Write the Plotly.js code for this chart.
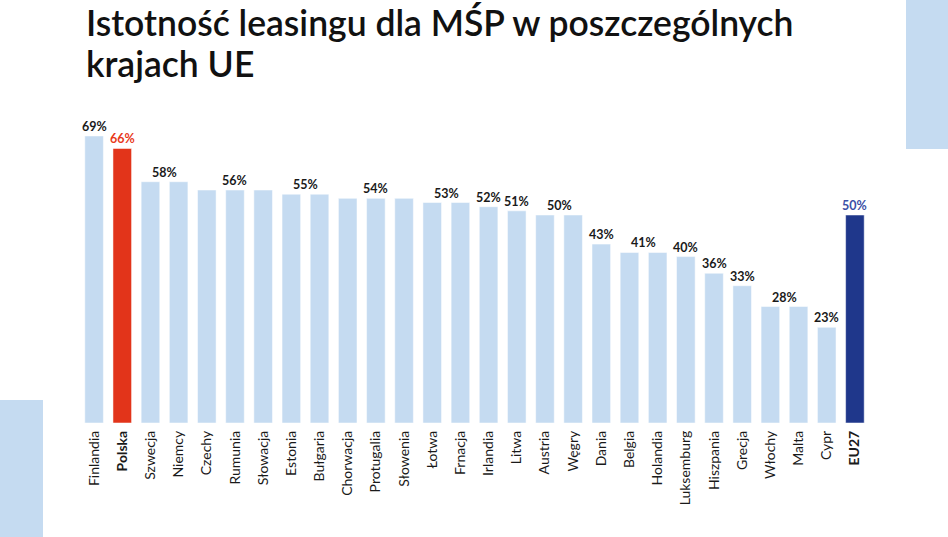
<!DOCTYPE html>
<html>
<head>
<meta charset="utf-8">
<script src="https://cdn.plot.ly/plotly-3.0.1.min.js"></script>
<style>
  html, body { margin: 0; padding: 0; background: #fff; }
  #chart { width: 948px; height: 537px; }
</style>
</head>
<body>
<div id="chart"></div>
<script>
// kraje i wartosci (%)
var countries = ['Finlandia', 'Polska', 'Szwecja', 'Niemcy', 'Czechy', 'Rumunia', 'Słowacja',
  'Estonia', 'Bułgaria', 'Chorwacja', 'Protugalia', 'Słowenia', 'Łotwa', 'Frnacja', 'Irlandia',
  'Litwa', 'Austria', 'Węgry', 'Dania', 'Belgia', 'Holandia', 'Luksemburg', 'Hiszpania',
  'Grecja', 'Włochy', 'Malta', 'Cypr', 'EU27'];
var values = [69, 66, 58, 58, 56, 56, 56, 55, 55, 54, 54, 54, 53, 53, 52, 51, 50, 50,
  43, 41, 41, 40, 36, 33, 28, 28, 23, 50];
var highlighted = ['Polska', 'EU27'];
var titleLines = ['Istotność leasingu dla MŚP w poszczególnych', 'krajach UE'];

var W = 948, H = 537;
var margin = {l: 80, r: 79, t: 100, b: 114};
var pw = W - margin.l - margin.r, ph = H - margin.t - margin.b;

var idx = countries.map(function(c, i) { return i; });

var barColors = countries.map(function(c) {
  if (c === 'Polska') return '#e2341a';
  if (c === 'EU27') return '#1f378b';
  return '#c5dbf1';
});

var tickText = countries.map(function(c) {
  return highlighted.indexOf(c) >= 0 ? '<b>' + c + '</b>' : c;
});

// px -> paper
function px2x(p) { return (p - margin.l) / pw; }
function py2y(p) { return (H - margin.b - p) / ph; }

// one label per run of equal values (EU27 kept separate)
var annotations = [];
var i = 0;
while (i < countries.length) {
  var j = i;
  while (j + 1 < countries.length && values[j + 1] === values[i] && countries[j + 1] !== 'EU27') j++;
  var col = '#1a1a1a';
  if (countries[i] === 'Polska') col = '#e8391a';
  if (countries[i] === 'EU27') col = '#3b4fa6';
  annotations.push({
    x: (i + j) / 2, y: values[i], xref: 'x', yref: 'y',
    text: values[i] + '%', showarrow: false,
    yanchor: 'bottom', yshift: 0,
    font: {family: 'Lato, sans-serif', size: 12.5, color: col, weight: 700}
  });
  i = j + 1;
}

// tytul jako dwie linie
titleLines.forEach(function(t, k) {
  annotations.push({
    xref: 'paper', yref: 'paper', x: px2x(84), y: py2y(23 + k * 40),
    xanchor: 'left', yanchor: 'middle', showarrow: false, text: t,
    font: {family: 'Lato, sans-serif', size: 35.5, color: '#111', weight: 600}
  });
});

var shapes = [
  {type: 'rect', xref: 'paper', yref: 'paper', x0: px2x(906), x1: px2x(960),
    y0: py2y(149), y1: py2y(-10), fillcolor: '#c5dbf1', line: {width: 0}, layer: 'below'},
  {type: 'rect', xref: 'paper', yref: 'paper', x0: px2x(-10), x1: px2x(43),
    y0: py2y(547), y1: py2y(400), fillcolor: '#c5dbf1', line: {width: 0}, layer: 'below'}
];

var trace = {
  type: 'bar',
  x: idx,
  y: values,
  marker: {color: barColors, line: {color: 'rgba(255,255,255,0.5)', width: 1}},
  hoverinfo: 'skip'
};

var layout = {
  width: W,
  height: H,
  margin: margin,
  paper_bgcolor: '#fff',
  plot_bgcolor: 'rgba(0,0,0,0)',
  showlegend: false,
  bargap: 0.34,
  xaxis: {
    range: [-0.5, countries.length - 0.5],
    tickvals: idx,
    ticktext: tickText,
    tickangle: -90,
    ticks: '',
    ticklabelstandoff: 4,
    showgrid: false,
    zeroline: false,
    showline: false,
    tickfont: {family: 'Lato, sans-serif', size: 14, color: '#1a1a1a'}
  },
  yaxis: {
    range: [0, ph / 4.16],
    visible: false,
    fixedrange: true
  },
  annotations: annotations,
  shapes: shapes
};

Plotly.newPlot('chart', [trace], layout, {displayModeBar: false, staticPlot: true});
</script>
</body>
</html>
